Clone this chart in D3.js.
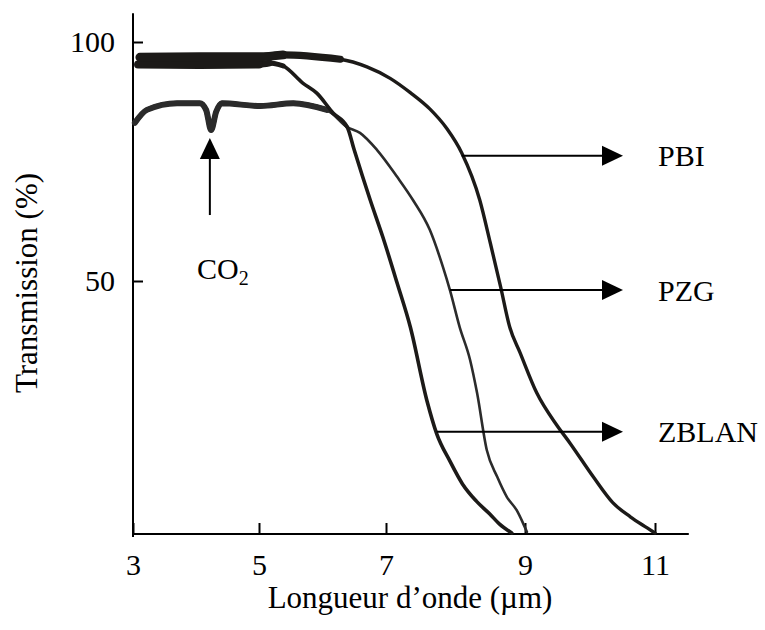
<!DOCTYPE html>
<html>
<head>
<meta charset="utf-8">
<script src="https://cdn.jsdelivr.net/npm/d3@7"></script>
<style>
  body { margin: 0; background: #fff; }
  text { font-family: "Liberation Serif", "Times New Roman", serif; fill: #000; }
</style>
</head>
<body>
<div id="chart"></div>
<script>
// values: wavelength (µm) / transmission (%)
var pbiWl = [3.11, 4.06, 5.0, 5.38, 6.28, 6.70, 7.06, 7.35, 7.63, 7.88, 8.09, 8.35, 8.50, 8.65, 8.78, 8.93, 9.18, 9.49, 9.69, 10.05, 10.35, 10.62, 10.88, 11.0]
var pbiT = [96.8, 96.9, 96.9, 97.3, 96.4, 94.8, 92.4, 89.4, 86.0, 81.8, 76.8, 66.9, 58.0, 48.8, 40.9, 35.8, 27.9, 21.5, 18.0, 11.3, 6.2, 3.4, 1.2, 0.2]

var zblanWl = [3.08, 4.06, 5.0, 5.17, 5.38, 5.69, 5.91, 6.17, 6.39, 6.50, 6.75, 6.95, 7.16, 7.35, 7.59, 7.73, 7.92, 8.10, 8.30, 8.49, 8.63, 8.81]
var zblanT = [95.3, 95.2, 95.3, 95.6, 95.0, 91.4, 89.3, 85.1, 82.2, 77.4, 67.0, 59.2, 49.6, 40.9, 26.3, 19.8, 14.4, 9.9, 6.5, 4.0, 2.0, 0.2]

var pzgWl = [3.03, 3.22, 3.70, 4.06, 4.16, 4.24, 4.32, 4.41, 5.02, 5.54, 6.07, 6.39, 6.59, 6.86, 7.16, 7.39, 7.63, 7.82, 7.92, 8.06, 8.21, 8.31, 8.45, 8.60, 8.74, 8.88, 8.97, 9.03]
var pzgT = [83.1, 85.8, 87.2, 87.2, 85.8, 81.6, 85.4, 87.2, 86.6, 87.2, 85.8, 82.2, 81.0, 77.4, 71.8, 66.9, 60.7, 52.9, 48.2, 40.9, 34.4, 27.9, 16.6, 11.3, 7.3, 4.7, 2.2, 0.4]

var xTicks = [3, 5, 7, 9, 11]
var yTicks = [50, 100]

// arrow labels: name, transmission level of the arrow, wavelength where it leaves the curve
var labelNames = ["PBI", "PZG", "ZBLAN"]
var labelLevels = [76.2, 48.2, 20.2]
var labelFrom = [8.09, 7.92, 7.73]

var width = 765
var height = 630
var fontSize = 30

// the scan's tick spacing is not quite even, so the scale follows the printed ticks
var x = d3.scaleLinear().domain([3, 5, 7, 9, 11]).range([133, 259, 386, 525, 655])
var y = d3.scaleLinear().domain([0, 50, 100]).range([534, 281, 42])

var svg = d3.select("#chart")
  .append("svg")
  .attr("width", width)
  .attr("height", height)

// axis lines
svg.append("line")
  .attr("x1", x(3)).attr("x2", x(3))
  .attr("y1", y(0) + 3).attr("y2", y(106))
  .attr("stroke", "#000").attr("stroke-width", 2)
svg.append("line")
  .attr("x1", x(3)).attr("x2", x(11.52))
  .attr("y1", y(0)).attr("y2", y(0))
  .attr("stroke", "#000").attr("stroke-width", 2)

var xAxis = svg.append("g")
  .attr("transform", "translate(0," + y(0) + ")")
  .call(d3.axisBottom(x).tickValues(xTicks).tickSize(-11).tickPadding(20).tickFormat(d3.format("d")))
xAxis.select(".domain").remove()

var yAxis = svg.append("g")
  .attr("transform", "translate(" + x(3) + ",0)")
  .call(d3.axisLeft(y).tickValues(yTicks).tickSize(-10).tickPadding(18).tickFormat(d3.format("d")))
yAxis.select(".domain").remove()

svg.selectAll(".tick line").attr("stroke", "#000").attr("stroke-width", 2)
svg.selectAll(".tick text")
  .style("font-family", "'Liberation Serif', 'Times New Roman', serif")
  .attr("font-size", fontSize)
  .attr("fill", "#000")

// axis titles
svg.append("text")
  .attr("x", 410)
  .attr("y", 608)
  .attr("text-anchor", "middle")
  .attr("font-size", 31)
  .text("Longueur d\u2019onde (\u00b5m)")

svg.append("text")
  .attr("transform", "translate(37,283) rotate(-90)")
  .attr("text-anchor", "middle")
  .attr("font-size", 31)
  .text("Transmission (%)")

// curves
var line = d3.line()
  .x(function(d) { return x(d[0]) })
  .y(function(d) { return y(d[1]) })
  .curve(d3.curveMonotoneX)

function strokePath(pts, color, w) {
  svg.append("path")
    .datum(pts)
    .attr("d", line)
    .attr("fill", "none")
    .attr("stroke", color)
    .attr("stroke-width", w)
    .attr("stroke-linejoin", "round")
    .attr("stroke-linecap", "round")
}

function drawCurve(wl, t, color, base, heavy, heavyTo) {
  var pts = wl.map(function(w, i) { return [w, t[i]] })
  strokePath(pts, color, base)
  // the noisy flat part of the trace looks much heavier in the scan, thinning out as it drops
  var steps = [0.45, 0.25, 0]
  steps.forEach(function(s, k) {
    var w = base + (heavy - base) * (k + 1) / steps.length
    strokePath(pts.filter(function(p) { return p[0] <= heavyTo + s }), color, w)
  })
}

drawCurve(pzgWl, pzgT, "#2b2b2b", 2.6, 6, 6.1)
drawCurve(zblanWl, zblanT, "#1c1a18", 3.6, 8, 5.1)
drawCurve(pbiWl, pbiT, "#1c1a18", 3.4, 9, 6.2)

// label arrows
var arrowEnd = x(3) + 490
labelNames.forEach(function(name, i) {
  var yy = y(labelLevels[i])
  svg.append("line")
    .attr("x1", x(labelFrom[i])).attr("x2", arrowEnd - 18)
    .attr("y1", yy).attr("y2", yy)
    .attr("stroke", "#000").attr("stroke-width", 2)
  svg.append("path")
    .attr("d", "M" + (arrowEnd - 21) + "," + (yy - 10) + "L" + arrowEnd + "," + yy + "L" + (arrowEnd - 21) + "," + (yy + 10) + "Z")
    .attr("fill", "#000")
  svg.append("text")
    .attr("x", arrowEnd + 35)
    .attr("y", yy)
    .attr("dy", "0.35em")
    .attr("font-size", fontSize)
    .text(name)
})

// CO2 absorption marker
var co2x = x(4.22)
svg.append("line")
  .attr("x1", co2x).attr("x2", co2x)
  .attr("y1", y(63.8)).attr("y2", y(79.9) + 18)
  .attr("stroke", "#000").attr("stroke-width", 2)
svg.append("path")
  .attr("d", "M" + (co2x - 10) + "," + (y(79.9) + 21) + "L" + co2x + "," + y(79.9) + "L" + (co2x + 10) + "," + (y(79.9) + 21) + "Z")
  .attr("fill", "#000")

var co2 = svg.append("text")
  .attr("x", 197)
  .attr("y", y(50.4))
  .attr("font-size", fontSize)
co2.append("tspan").text("CO")
co2.append("tspan").attr("font-size", 20).attr("dy", 6).text("2")
</script>
</body>
</html>
